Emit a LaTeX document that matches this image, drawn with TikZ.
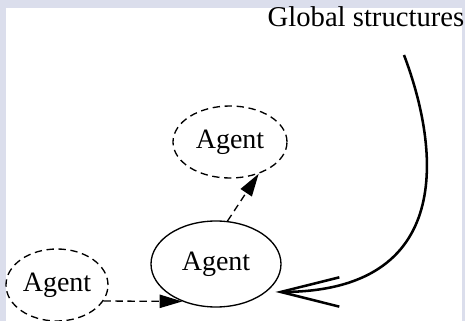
\documentclass[tikz,border=0pt]{standalone}
\usepackage{fontspec}
\setmainfont{Liberation Serif}
\usetikzlibrary{arrows.meta,shapes.geometric}
\definecolor{framebg}{RGB}{219,222,236}
\tikzset{every picture/.style={line width=1pt}}
\tikzset{
  agent/.style={ellipse, draw, inner sep=0pt, font=\fontsize{21}{25}\selectfont},
  dashagent/.style={agent, dash pattern=on 5.5pt off 3.5pt},
  flow/.style={dash pattern=on 5.5pt off 3.5pt, -{Triangle[length=17pt,width=10pt]}},
  global/.style={line width=1.9pt, -{Straight Barb[length=44pt,width=22pt]}}
}

\begin{document}
\begin{tikzpicture}[x=0.75pt,y=0.75pt,yscale=-1,xscale=1]
    \useasboundingbox (0,0) rectangle (465,321);
    %Shape: Frame
    \fill[framebg] (0,0) rectangle (465,321);
    \fill[white] (6,8) rectangle (462,321);

    %Shape: Ellipse [id:agmain]
    \node[agent, minimum width=97.5pt, minimum height=64.5pt] (agmain) at (216,264) {Agent};
    %Shape: Ellipse [id:agtop]
    \node[dashagent, minimum width=85.5pt, minimum height=54pt] (agtop) at (230,142) {Agent};
    %Shape: Ellipse [id:agleft]
    \node[dashagent, minimum width=76.5pt, minimum height=54pt] (agleft) at (57,285) {Agent};

    % Text Node
    \node[anchor=base west, inner sep=0pt, font=\fontsize{21.5}{25}\selectfont] (gstext) at (267,27) {Global structures};
    \coordinate (gsfoot) at (404,55);

    %Straight Lines [id:flowleft]
    \draw[flow] (agleft.-19) -- (agmain.228);
    %Straight Lines [id:flowtop]
    \draw[flow] (agmain.75) -- (agtop.-48);
    %Curve Lines [id:global]
    \draw[global, shorten >=6.75pt] (gsfoot) .. controls (440,150) and (455,292) .. (agmain.-29);
\end{tikzpicture}
\end{document}
